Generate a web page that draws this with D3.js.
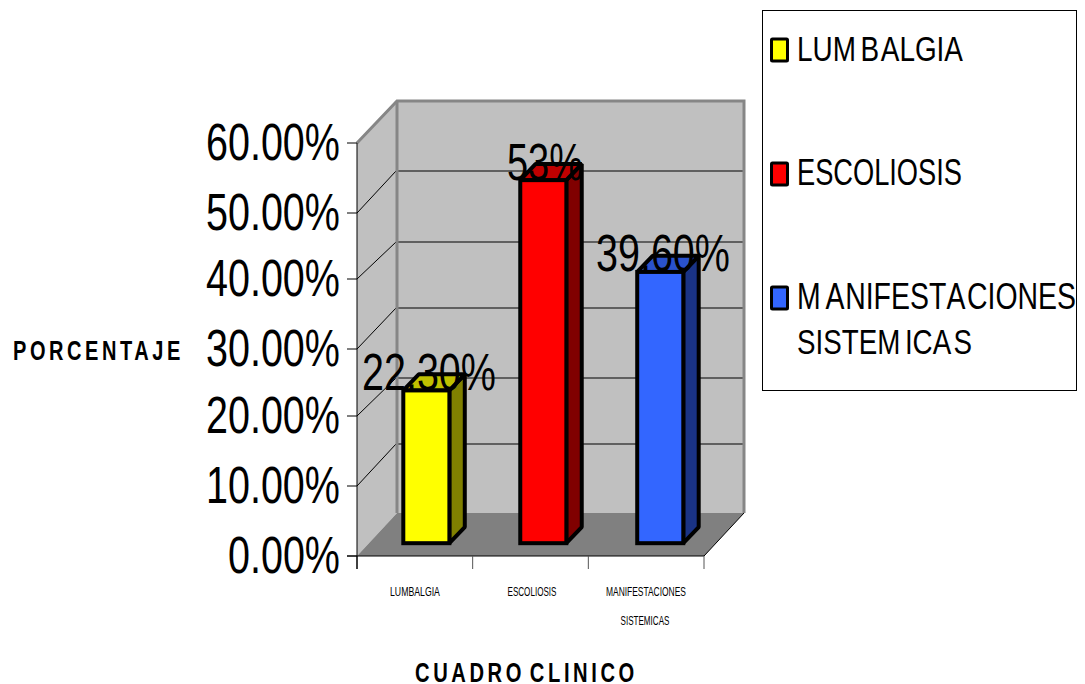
<!DOCTYPE html>
<html lang="es">
<head>
<meta charset="utf-8">
<script src="https://cdn.jsdelivr.net/npm/d3@7"></script>
<style>
  html, body { margin: 0; padding: 0; background: #fff; overflow: hidden; }
  svg { display: block; }
  text { font-family: "Liberation Sans", Arial, sans-serif; fill: #000; }
</style>
</head>
<body>
<svg id="chart" width="1085" height="684"></svg>
<script>
// Cuadro clinico: percentage of cases per clinical presentation
const categories = ["LUMBALGIA", "ESCOLIOSIS", "MANIFESTACIONES SISTEMICAS"];
const values = [22.3, 53, 39.6];
const valueLabels = ["22.30%", "53%", "39.60%"];
const tickValues = [0, 10, 20, 30, 40, 50, 60];
const faceColors = ["#ffff00", "#ff0000", "#3366ff"];
const topColors = ["#c0c000", "#c00000", "#2a52cc"];
const sideColors = ["#808000", "#800000", "#1a3385"];

const svg = d3.select("#chart");

// Oblique projection of the 3-D box; pixel-snapped tick rows on the front and back planes
const depthX = 40, depthY = -42;
const barDepthStart = 0.305, barDepthSpan = 0.385;
const y = d3.scaleLinear().domain(tickValues).range([556, 486, 416, 349, 279, 213, 143]);
const gridBack = d3.scaleLinear().domain(tickValues).range([513, 444, 378, 308, 242, 171, 101]);
const xAxisScale = d3.scalePoint().domain(d3.range(4)).range([357, 704]);
const xBar = d3.scaleBand().domain(categories).range([403.3, 683.3]).paddingInner(0.606).paddingOuter(0);
const poly = (pts) => pts.map(p => p.join(",")).join(" ");

// Text squeezed horizontally to a given width, the way the chart renders its labels
function fitted(parent, str, x, yPos, size, width, anchor, opts = {}) {
  const t = parent.append("text")
    .attr("font-size", size)
    .attr("font-weight", opts.weight || "normal")
    .text(str);
  if (opts.spacing) t.attr("letter-spacing", opts.spacing);
  if (opts.wordSpacing) t.attr("word-spacing", opts.wordSpacing);
  const natural = t.node().getComputedTextLength();
  let extra = 0;
  if (opts.dx) {
    t.attr("dx", opts.dx);
    extra = d3.sum(opts.dx.split(" ").map(Number));
  }
  const sx = width / (natural + extra);
  const x0 = anchor === "end" ? x - width : anchor === "middle" ? x - width / 2 : x;
  t.attr("transform", `translate(${x0},${yPos}) scale(${sx},1)`);
  return t;
}

const x0 = 357, x1 = 704, base = y(0), top60 = y(60);
const wallTop = gridBack(60), wallBottom = gridBack(0);

// Side wall, back wall and floor
svg.append("polygon").attr("fill", "#c0c0c0")
  .attr("points", poly([[x0, base], [x0, top60], [x0 + depthX, wallTop], [x0 + depthX, wallBottom]]));
svg.append("polygon").attr("fill", "#c0c0c0")
  .attr("points", poly([[x0 + depthX, wallTop], [x1 + depthX, wallTop], [x1 + depthX, wallBottom], [x0 + depthX, wallBottom]]));
svg.append("polygon").attr("fill", "#808080")
  .attr("points", poly([[x0, base], [x1, base], [x1 + depthX, wallBottom], [x0 + depthX, wallBottom]]));

// Gridlines across the side and back walls
const grid = svg.append("g");
tickValues.slice(1, -1).forEach(v => {
  grid.append("line").attr("x1", x0).attr("y1", y(v)).attr("x2", x0 + depthX - 1).attr("y2", gridBack(v))
    .attr("stroke", "#000").attr("stroke-width", 1);
  grid.append("line").attr("x1", x0 + depthX).attr("y1", gridBack(v)).attr("x2", x1 + depthX).attr("y2", gridBack(v))
    .attr("stroke", "#404040").attr("stroke-width", 1.4);
});

// Grey frame of the walls
svg.append("polyline").attr("fill", "none").attr("stroke", "#868686").attr("stroke-width", 3)
  .attr("points", poly([[x0, top60], [x0 + depthX, wallTop], [x1 + depthX, wallTop], [x1 + depthX, wallBottom]]));
svg.append("line").attr("x1", x0 + depthX).attr("x2", x0 + depthX).attr("y1", wallTop).attr("y2", wallBottom)
  .attr("stroke", "#868686").attr("stroke-width", 3);

// Front axes with tick marks
const axes = svg.append("g").attr("stroke", "#000").attr("stroke-width", 1);
axes.append("line").attr("x1", x0).attr("x2", x0).attr("y1", top60).attr("y2", base + 13);
axes.append("line").attr("x1", x0 - 10).attr("x2", x1).attr("y1", base).attr("y2", base);
axes.append("line").attr("x1", x1).attr("y1", base).attr("x2", x1 + depthX).attr("y2", wallBottom);
tickValues.forEach(v => {
  axes.append("line").attr("x1", x0 - 10).attr("x2", x0).attr("y1", y(v)).attr("y2", y(v));
});
d3.range(4).forEach(i => {
  axes.append("line").attr("x1", xAxisScale(i)).attr("x2", xAxisScale(i)).attr("y1", base).attr("y2", base + 13)
    .attr("stroke", i === 0 ? "#000" : "#555");
});

// Bars: front, side and top faces
const bars = svg.append("g").attr("stroke", "#000").attr("stroke-width", 4).attr("stroke-linejoin", "miter");
const barBase = base + depthY * barDepthStart;
const barH = d3.scaleLinear().domain([0, 60]).range([0, 411]);
const bdx = depthX * barDepthSpan, bdy = depthY * barDepthSpan;
categories.forEach((c, i) => {
  const l = xBar(c), r = l + xBar.bandwidth(), t = barBase - barH(values[i]);
  bars.append("polygon").attr("fill", sideColors[i]).attr("stroke-linejoin", "bevel")
    .attr("points", poly([[r, barBase], [r + bdx, barBase + bdy], [r + bdx, t + bdy], [r, t]]));
  bars.append("polygon").attr("fill", topColors[i]).attr("stroke-linejoin", "bevel")
    .attr("points", poly([[l, t], [l + bdx, t + bdy], [r + bdx, t + bdy], [r, t]]));
  bars.append("rect").attr("fill", faceColors[i])
    .attr("x", l).attr("y", t).attr("width", r - l).attr("height", barBase - t);
});

// Value labels sit over the bar tops
const labelWidths = [134, 76, 134];
const labelCentres = [429, 545, 663];
const labelBaselines = [390, 180, 271];
valueLabels.forEach((s, i) => {
  fitted(svg, s, labelCentres[i], labelBaselines[i], 52, labelWidths[i], "middle");
});

// Y tick labels
const tickFmt = v => v.toFixed(2) + "%";
tickValues.forEach(v => {
  fitted(svg, tickFmt(v), 340, y(v) + 17, 52, v === 0 ? 112 : 134, "end");
});

// Category labels under the axis
const catLabelSize = 12;
fitted(svg, "LUMBALGIA", 415, 596, catLabelSize, 50, "middle");
fitted(svg, "ESCOLIOSIS", 532, 596, catLabelSize, 49, "middle");
fitted(svg, "MANIFESTACIONES", 646, 596, catLabelSize, 80, "middle");
fitted(svg, "SISTEMICAS", 645, 625, catLabelSize, 49, "middle");

// Axis titles: tall condensed bold capitals with wide tracking
fitted(svg, "PORCENTAJE", 13, 360, 28, 171, "start", { weight: "bold", spacing: 5 });
fitted(svg, "CUADRO CLINICO", 415, 682, 28, 223, "start", { weight: "bold", spacing: 5, wordSpacing: -6 });

// Legend box and entries
svg.append("rect").attr("x", 762.5).attr("y", 10.5).attr("width", 314).attr("height", 380)
  .attr("fill", "#fff").attr("stroke", "#000").attr("stroke-width", 1);
const legendY = [49, 173, 297];
const legendLines = [["LUMBALGIA"], ["ESCOLIOSIS"], ["MANIFESTACIONES", "SISTEMICAS"]];
const legendWidths = [[166], [165], [279, 175]];
const legendKerns = [["0 0 0 6 2"], ["0"], ["0 6 1 0 0 0 0 0 3 2", "0 0 0 0 0 0 6 0 0 3"]];
categories.forEach((c, i) => {
  svg.append("rect").attr("x", 771.5).attr("y", legendY[i] - 10).attr("width", 16).attr("height", 22)
    .attr("fill", faceColors[i]).attr("stroke", "#000").attr("stroke-width", 3).attr("rx", 1);
  legendLines[i].forEach((line, j) => {
    fitted(svg, line, 797, legendY[i] + 12 + j * 45, 36, legendWidths[i][j], "start", { dx: legendKerns[i][j] });
  });
});
</script>
</body>
</html>
